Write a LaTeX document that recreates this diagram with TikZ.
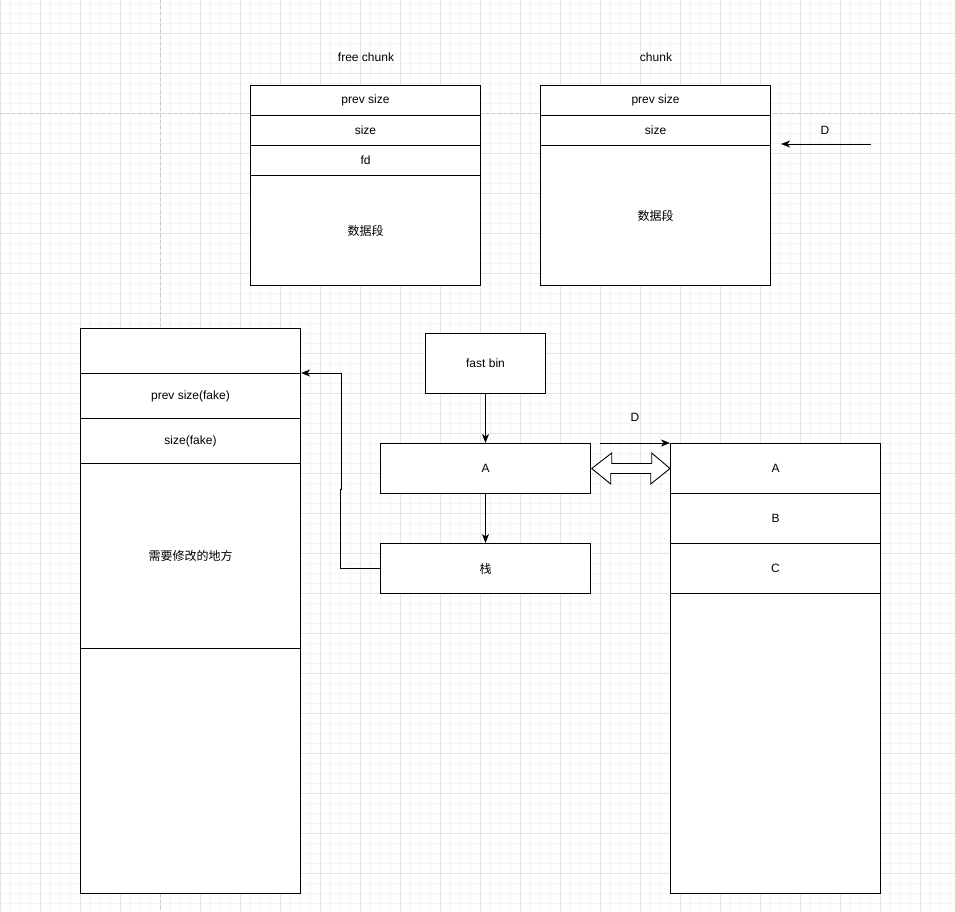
\documentclass[tikz,border=0pt]{standalone}
\usepackage{fontspec}
\setmainfont{Liberation Sans}
\newfontfamily\cjk{Noto Sans CJK SC}
\usetikzlibrary{arrows.meta}
\definecolor{gminor}{HTML}{F4F4F4}
\definecolor{gmajor}{HTML}{E4E4E4}
\definecolor{gpage}{HTML}{C8C8C8}
\begin{document}
\begin{tikzpicture}[x=1pt,y=-1pt,
  every node/.style={font=\fontsize{12}{14}\selectfont},
  cell/.style={draw=black,line width=1pt,fill=white,inner sep=0pt,anchor=north west},
  lbl/.style={inner sep=0pt},
  conn/.style={line width=1pt,-{Stealth[length=9pt,width=7pt,inset=2.5pt]}},
  line/.style={line width=1pt}]
\useasboundingbox (0,0) rectangle (955,911);
\fill[white] (0,0) rectangle (955,911);
% grid
\foreach \x in {0,10,...,950} \draw[gminor,line width=0.8pt] (\x,0) -- (\x,911);
\foreach \y in {3,13,...,911} \draw[gminor,line width=0.8pt] (0,\y) -- (955,\y);
\foreach \x in {0,40,...,950} \draw[gmajor,line width=0.8pt] (\x,0) -- (\x,911);
\foreach \y in {-7,33,...,911} \draw[gmajor,line width=0.8pt] (0,\y) -- (955,\y);
\draw[gpage,line width=0.8pt,dash pattern=on 3pt off 3pt] (160,0) -- (160,911);
\draw[gpage,line width=0.8pt,dash pattern=on 3pt off 3pt] (0,113) -- (955,113);

% titles
\node[lbl] (tfree) at (366,57) {free chunk};
\node[lbl] (tchunk) at (656,57) {chunk};

% free chunk
\node[cell,minimum width=230pt,minimum height=30pt] (f1) at (250,85) {prev size};
\node[cell,minimum width=230pt,minimum height=30pt] (f2) at (250,115) {size};
\node[cell,minimum width=230pt,minimum height=30pt] (f3) at (250,145) {fd};
\node[cell,minimum width=230pt,minimum height=110pt] (f4) at (250,175) {\cjk 数据段};

% chunk
\node[cell,minimum width=230pt,minimum height=30pt] (c1) at (540,85) {prev size};
\node[cell,minimum width=230pt,minimum height=30pt] (c2) at (540,115) {size};
\node[cell,minimum width=230pt,minimum height=140pt] (c3) at (540,145) {\cjk 数据段};

\node[lbl] (d1) at (825,130) {D};
\coordinate (d1s) at (871,144);
\coordinate (d1e) at (781,144);
\draw[conn] (d1s) -- (d1e);

% left stack
\node[cell,minimum width=220pt,minimum height=45pt] (l1) at (80,328) {};
\node[cell,minimum width=220pt,minimum height=45pt] (l2) at (80,373) {prev size(fake)};
\node[cell,minimum width=220pt,minimum height=45pt] (l3) at (80,418) {size(fake)};
\node[cell,minimum width=220pt,minimum height=185pt] (l4) at (80,463) {\cjk 需要修改的地方};
\node[cell,minimum width=220pt,minimum height=245pt] (l5) at (80,648) {};

% middle
\node[cell,minimum width=120pt,minimum height=60pt] (fb) at (425,333) {fast bin};
\node[cell,minimum width=210pt,minimum height=50pt] (a) at (380,443) {A};
\node[cell,minimum width=210pt,minimum height=50pt] (zh) at (380,543) {\cjk 栈};

% right stack
\node[cell,minimum width=210pt,minimum height=50pt] (r1) at (670,443) {A};
\node[cell,minimum width=210pt,minimum height=50pt] (r2) at (670,493) {B};
\node[cell,minimum width=210pt,minimum height=50pt] (r3) at (670,543) {C};
\node[cell,minimum width=210pt,minimum height=300pt] (r4) at (670,593) {};

% connectors
\draw[conn] (fb.south) -- (a.north);
\draw[conn] (a.south) -- (zh.north);
\coordinate (j1) at (340.5,489);
\coordinate (j2) at (341.5,489);
\draw[conn] (zh.west) -| (j1) -- (j2) |- (l2.north east);

\node[lbl] (d2) at (635,417) {D};
\coordinate (d2s) at (600,443);
\draw[conn] (d2s) -- (r1.north west);

% hollow double arrow
\draw[line width=0.9pt,fill=white,line join=miter]
  ([xshift=0.7pt]a.east) -- ++(20,-15.5) -- ++(0,10.5) -- ++(40,0) -- ++(0,-10.5)
  -- (r1.west) -- ++(-19.3,15.5) -- ++(0,-10.5) -- ++(-40,0) -- ++(0,10.5) -- cycle;
\end{tikzpicture}
\end{document}
